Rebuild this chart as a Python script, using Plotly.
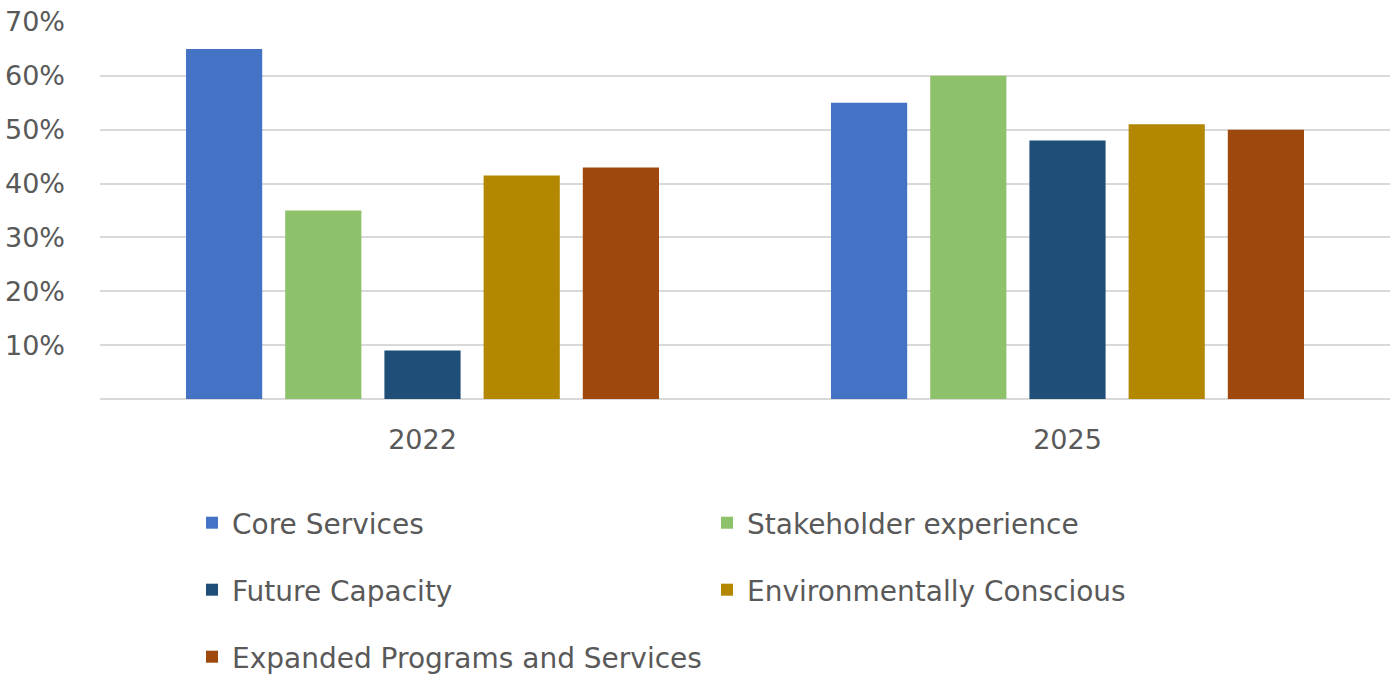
import plotly.graph_objects as go

years = ["2022", "2025"]
series_names = ["Core Services", "Stakeholder experience", "Future Capacity",
                "Environmentally Conscious", "Expanded Programs and Services"]
core_services = [0.65, 0.55]
stakeholder_experience = [0.35, 0.60]
future_capacity = [0.09, 0.48]
environmentally_conscious = [0.415, 0.51]
expanded_programs = [0.43, 0.50]
series_values = [core_services, stakeholder_experience, future_capacity,
                 environmentally_conscious, expanded_programs]
colors = ["#4472C4", "#8DC16A", "#1F4E79", "#B38700", "#9E480E"]
y_tick_vals = [0.1, 0.2, 0.3, 0.4, 0.5, 0.6, 0.7]
y_tick_text = ["10%", "20%", "30%", "40%", "50%", "60%", "70%"]

FONT = "DejaVu Sans"
TXT = "#595959"
W, H = 1392, 677
L, R, T, B = 100, 2, 22, 278
PW, PH = W - L - R, H - T - B

# legend item positions in pixels: (marker center x, row center y)
leg_pos = [(212, 523), (727, 523), (212, 590), (727, 590), (212, 657)]
legend_names = ["legend", "legend2", "legend3", "legend4", "legend5"]

fig = go.Figure()
for i, (name, vals, col) in enumerate(zip(series_names, series_values, colors)):
    fig.add_trace(go.Bar(name=name, x=years, y=vals, marker_color=col,
                         marker_line_width=0, legend=legend_names[i]))

layout_legends = {}
for i, ln in enumerate(legend_names):
    px, py = leg_pos[i]
    layout_legends[ln] = dict(
        x=(px - 20 - L) / PW, y=(H - B - py) / PH,
        xanchor="left", yanchor="middle",
        bgcolor="rgba(0,0,0,0)", borderwidth=0,
        font=dict(family=FONT, size=28, color=TXT),
        itemclick=False, itemdoubleclick=False,
    )

fig.update_layout(
    width=W, height=H,
    margin=dict(l=L, r=R, t=T, b=B, autoexpand=False),
    paper_bgcolor="white", plot_bgcolor="white",
    barmode="group", bargap=0.231, bargroupgap=0.232,
    showlegend=True,
    font=dict(family=FONT, color=TXT),
    xaxis=dict(showgrid=False, showline=False, ticks="", tickangle=0,
               tickfont=dict(family=FONT, size=27, color=TXT),
               ticklabelstandoff=22),
    yaxis=dict(range=[0, 0.70], tickvals=y_tick_vals, ticktext=y_tick_text,
               showgrid=True, gridcolor="#D9D9D9", gridwidth=2,
               zeroline=True, zerolinecolor="#D9D9D9", zerolinewidth=2,
               showline=False, ticks="",
               tickfont=dict(family=FONT, size=27, color=TXT),
               ticklabelstandoff=34),
    **layout_legends,
)

fig.write_html("out.html")
